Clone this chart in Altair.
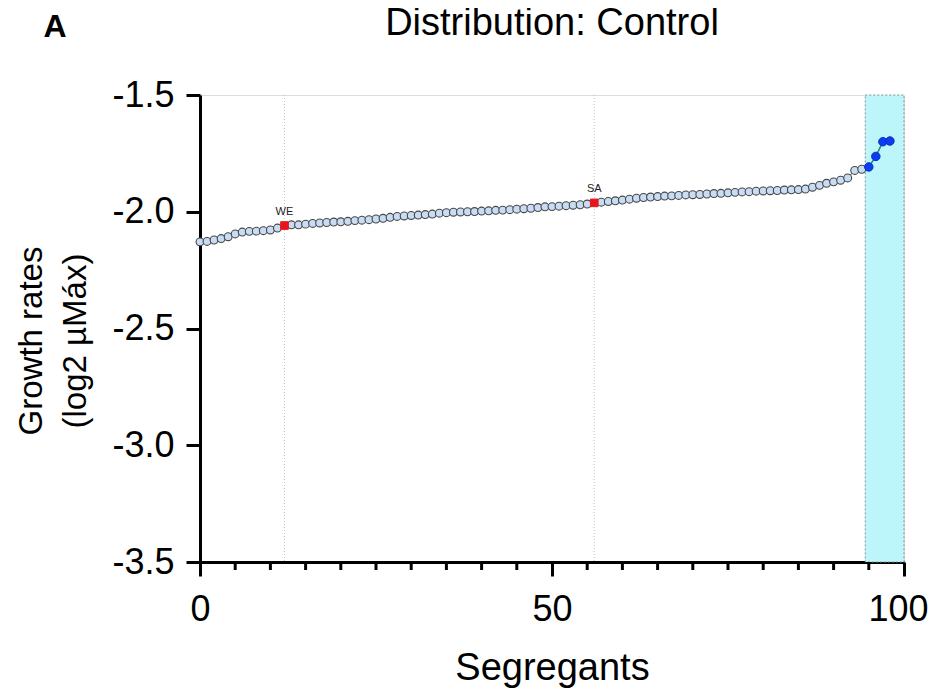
import altair as alt
import pandas as pd

# ---- data ----
segregant = list(range(99))
growth = [
    -2.129, -2.127, -2.121, -2.115, -2.107, -2.095, -2.087, -2.084, -2.083, -2.081,
    -2.078, -2.070, -2.059, -2.056, -2.056, -2.053, -2.050, -2.048, -2.046, -2.044,
    -2.043, -2.041, -2.038, -2.036, -2.034, -2.031, -2.028, -2.024, -2.020, -2.018,
    -2.016, -2.014, -2.012, -2.010, -2.006, -2.004, -2.002, -2.001, -2.000, -1.999,
    -1.997, -1.996, -1.994, -1.993, -1.991, -1.989, -1.987, -1.985, -1.982, -1.979,
    -1.978, -1.976, -1.974, -1.972, -1.970, -1.967, -1.962, -1.959, -1.956, -1.953,
    -1.950, -1.946, -1.942, -1.939, -1.937, -1.935, -1.933, -1.932, -1.930, -1.928,
    -1.927, -1.926, -1.924, -1.922, -1.921, -1.919, -1.917, -1.915, -1.914, -1.912,
    -1.911, -1.910, -1.909, -1.907, -1.906, -1.905, -1.903, -1.895, -1.887, -1.878,
    -1.872, -1.865, -1.855, -1.823, -1.818, -1.808, -1.763, -1.700, -1.697,
]
parent_names = ["WE", "SA"]
parent_index = [12, 56]
top_index = [95, 96, 97, 98]
highlight_range = [94.5, 100]
x_major = [0, 50, 100]
x_minor = [5, 10, 15, 20, 25, 30, 35, 40, 45, 55, 60, 65, 70, 75, 80, 85, 90, 95]
y_ticks = [-1.5, -2.0, -2.5, -3.0, -3.5]
y_domain = [-3.5, -1.5]
x_domain = [0, 100]
chart_title = "Distribution: Control"
panel_letter = "A"

W, H = 704, 467
FONT = "Liberation Sans"

df = pd.DataFrame({"seg": segregant, "rate": growth})
df["kind"] = "normal"
for i in parent_index:
    df.loc[df.seg == i, "kind"] = "parent"
for i in top_index:
    df.loc[df.seg == i, "kind"] = "top"

parents = df[df.seg.isin(parent_index)].copy()
parents["name"] = [parent_names[parent_index.index(s)] for s in parents.seg]
parents["ytop"] = y_domain[1]
parents["ybot"] = y_domain[0]

hl = pd.DataFrame({"x": [highlight_range[0]], "x2": [highlight_range[1]],
                   "y": [y_domain[1]], "y2": [y_domain[0]]})
minor_df = pd.DataFrame({"t": x_minor})

xscale = alt.Scale(domain=x_domain, nice=False, zero=False)
yscale = alt.Scale(domain=y_domain, nice=False, zero=False)

xaxis = alt.Axis(values=x_major, tickSize=14, tickWidth=3, domainWidth=3,
                 domainColor="black", tickColor="black", labelFontSize=36,
                 labelColor="black", labelPadding=16, grid=False, labelFlush=False,
                 labelOverlap=False,
                 labelOffset={"condition": {"test": "datum.value >= 100", "value": -6}, "value": 0},
                 title="Segregants", titleFontSize=38, titleFontWeight="normal",
                 titleColor="black", titlePadding=22, labelFont=FONT, titleFont=FONT)
yaxis = alt.Axis(values=y_ticks, tickSize=14, tickWidth=3, domainWidth=3,
                 domainColor="black", tickColor="black", labelFontSize=36,
                 labelColor="black", labelPadding=12, grid=False, labelFlush=False,
                 labelOverlap=False,
                 labelExpr="replace(format(datum.value, '.1f'), '\u2212', '-')",
                 title=["Growth rates", "(log2 \u00b5M\u00e1x)"], titleFontSize=33,
                 titleFontWeight="normal", titleColor="black", titlePadding=19,
                 titleLineHeight=44, titleY=H / 2 + 12, labelFont=FONT, titleFont=FONT)

band = alt.Chart(hl).mark_rect(fill="#bdf6fa", stroke="#8a8a8a", strokeDash=[2, 2],
                               strokeWidth=1).encode(
    x=alt.X("x:Q", scale=xscale, axis=xaxis), x2="x2:Q",
    y=alt.Y("y:Q", scale=yscale, axis=yaxis), y2="y2:Q")

vlines = alt.Chart(parents).mark_rule(color="#c4c4c4", strokeDash=[1, 2], strokeWidth=1).encode(
    x=alt.X("seg:Q", scale=xscale), y=alt.Y("ytop:Q", scale=yscale), y2="ybot:Q")

minor = alt.Chart(minor_df).mark_rule(color="black", strokeWidth=3).encode(
    x=alt.X("t:Q", scale=xscale), y=alt.value(H), y2=alt.value(H + 8))

line_all = alt.Chart(df).mark_line(color="#333333", strokeWidth=1).encode(
    x=alt.X("seg:Q", scale=xscale), y=alt.Y("rate:Q", scale=yscale))

line_top = alt.Chart(df[df.seg >= top_index[0] - 1]).mark_line(color="#1f9a6a", strokeWidth=1.5).encode(
    x=alt.X("seg:Q", scale=xscale), y=alt.Y("rate:Q", scale=yscale))

pts = alt.Chart(df[df.kind == "normal"]).mark_circle(size=62, fill="#c8ddf4", stroke="#474747",
                                                       strokeWidth=1.1, opacity=1).encode(
    x=alt.X("seg:Q", scale=xscale), y=alt.Y("rate:Q", scale=yscale))

pts_par = alt.Chart(df[df.kind == "parent"]).mark_square(size=58, fill="#e8141c", stroke="#e8141c",
                                                          strokeWidth=1, opacity=1).encode(
    x=alt.X("seg:Q", scale=xscale), y=alt.Y("rate:Q", scale=yscale))

pts_top = alt.Chart(df[df.kind == "top"]).mark_circle(size=72, fill="#0b3cf2", stroke="#0a30c8",
                                                       strokeWidth=1, opacity=1).encode(
    x=alt.X("seg:Q", scale=xscale), y=alt.Y("rate:Q", scale=yscale))

labels = alt.Chart(parents).mark_text(fontSize=11, color="#222222", dy=-14, font=FONT).encode(
    x=alt.X("seg:Q", scale=xscale), y=alt.Y("rate:Q", scale=yscale), text="name:N")

panel = alt.Chart(pd.DataFrame({"t": [panel_letter]})).mark_text(
    fontSize=32, fontWeight="bold", color="black", font=FONT, align="center", baseline="middle").encode(
    x=alt.value(-145), y=alt.value(-68), text="t:N")

title_txt = alt.Chart(pd.DataFrame({"t": [chart_title]})).mark_text(
    fontSize=38, fontWeight="normal", color="black", font=FONT, align="center", baseline="middle").encode(
    x=alt.value(W / 2), y=alt.value(-71), text="t:N")

chart = alt.layer(band, vlines, minor, line_all, line_top, pts, pts_par, pts_top, labels,
                  panel, title_txt).properties(
    width=W, height=H,
    autosize=alt.AutoSizeParams(type="none"),
    padding={"left": 192, "top": 87, "right": 26, "bottom": 126},
).configure_view(stroke=None).configure(font=FONT)

chart.save("out.html", embed_options={"renderer": "svg", "actions": False})
